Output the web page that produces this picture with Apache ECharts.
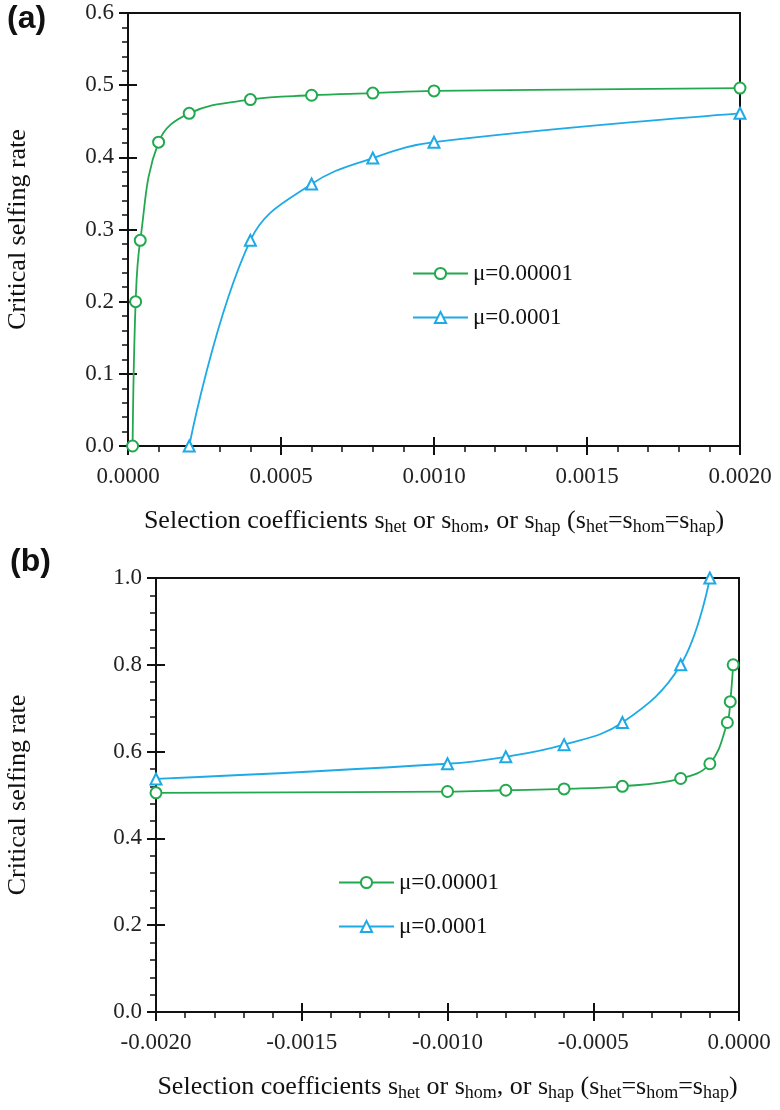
<!DOCTYPE html>
<html><head><meta charset="utf-8">
<script src="https://cdn.jsdelivr.net/npm/echarts@6/dist/echarts.min.js"></script>
<style>html,body{margin:0;padding:0;background:#fff}#c{width:780px;height:1110px}</style>
</head><body><div id="c"></div>
<script>
// Panel (a)
const xA_green = [0.000015, 0.000025, 0.00004, 0.0001, 0.0002, 0.0004, 0.0006, 0.0008, 0.0010, 0.0020];
const yA_green = [0.0, 0.2, 0.285, 0.421, 0.461, 0.480, 0.486, 0.489, 0.492, 0.496];
const xA_blue = [0.0002, 0.0004, 0.0006, 0.0008, 0.0010, 0.0020];
const yA_blue = [0.0, 0.285, 0.363, 0.399, 0.421, 0.461];
// Panel (b)
const xB_green = [-0.0020, -0.0010, -0.0008, -0.0006, -0.0004, -0.0002, -0.0001, -0.00004, -0.00003, -0.00002];
const yB_green = [0.505, 0.508, 0.511, 0.514, 0.520, 0.538, 0.572, 0.667, 0.715, 0.800];
const xB_blue = [-0.0020, -0.0010, -0.0008, -0.0006, -0.0004, -0.0002, -0.0001];
const yB_blue = [0.537, 0.572, 0.588, 0.616, 0.667, 0.800, 1.000];
const seriesNames = ['μ=0.00001', 'μ=0.0001'];
const panelLabels = ['(a)', '(b)'];
const yTitle = 'Critical selfing rate';

const GREEN = '#22a94f', BLUE = '#1eaae6';
const SERIF = '"Liberation Serif", "Times New Roman", serif';
const zip = (xs, ys) => xs.map((x, i) => [x, ys[i]]);

const xTitleRich = '{n|Selection coefficients s}{b|het}{n| or s}{b|hom}{n|, or s}{b|hap}{n| (s}{b|het}{n|=s}{b|hom}{n|=s}{b|hap}{n|)}';
const titleStyle = {
  rich: {
    n: {fontFamily: SERIF, fontSize: 26, color: '#111', lineHeight: 30},
    b: {fontFamily: SERIF, fontSize: 18, color: '#111', lineHeight: 16, verticalAlign: 'bottom'}
  }
};

const grids = [
  {left: 128, right: 40, top: 13, height: 433},
  {left: 156, right: 41, top: 578, height: 434}
];

function xAx(gi, min, max, main) {
  return {
    type: 'value', gridIndex: gi, min: min, max: max, interval: 0.0005,
    position: 'bottom',
    axisLine: {show: main, onZero: false, lineStyle: {color: '#111', width: 2}},
    axisTick: {show: true, inside: !main, length: 9, lineStyle: {color: '#111', width: 2}},
    minorTick: {show: main, splitNumber: 5, length: 6, lineStyle: {color: '#111', width: 1.5}},
    splitLine: {show: false},
    axisLabel: {show: main, margin: 19, fontFamily: SERIF, fontSize: 23, color: '#222',
      formatter: v => v.toFixed(4)},
    name: main ? xTitleRich : '', nameLocation: 'middle', nameGap: 60, nameTextStyle: titleStyle
  };
}
function yAx(gi, min, max, interval, main) {
  return {
    type: 'value', gridIndex: gi, min: min, max: max, interval: interval,
    position: 'left',
    axisLine: {show: main, onZero: false, lineStyle: {color: '#111', width: 2}},
    axisTick: {show: true, inside: !main, length: 9, lineStyle: {color: '#111', width: 2}},
    minorTick: {show: main, splitNumber: 5, length: 6, lineStyle: {color: '#111', width: 1.5}},
    splitLine: {show: false},
    axisLabel: {show: main, margin: 14, fontFamily: SERIF, fontSize: 23, color: '#222',
      formatter: v => v.toFixed(1)},
    name: main ? yTitle : '', nameLocation: 'middle', nameGap: main ? (gi === 0 ? 97 : 125) : 0,
    nameTextStyle: {fontFamily: SERIF, fontSize: 26, color: '#111'}
  };
}

function lineSeries(name, data, xi, yi, color, symbol) {
  return {
    type: 'line', name: name, xAxisIndex: xi, yAxisIndex: yi, data: data,
    smooth: 0.4,
    symbol: symbol, symbolSize: 11, showSymbol: true,
    lineStyle: {color: color, width: 1.8},
    itemStyle: {color: color, borderColor: color, borderWidth: 1.8},
    animation: false
  };
}

const chart = echarts.init(document.getElementById('c'), null, {renderer: 'canvas'});
const gridBase = {show: true, borderColor: '#111', borderWidth: 2, backgroundColor: 'transparent', outerBoundsMode: 'none', containLabel: false};
chart.setOption({
  animation: false,
  backgroundColor: '#fff',
  grid: [
    Object.assign({}, gridBase, grids[0]),
    Object.assign({}, gridBase, grids[1]),
    Object.assign({}, gridBase, {show: false}, grids[0]),
    Object.assign({}, gridBase, {show: false}, grids[1])
  ],
  xAxis: [xAx(0, 0, 0.002, true), xAx(1, -0.002, 0, true), xAx(2, 0, 0.002, false), xAx(3, -0.002, 0, false)],
  yAxis: [yAx(0, 0, 0.6, 0.1, true), yAx(1, 0, 1.0, 0.2, true), yAx(2, 0, 0.6, 0.1, false), yAx(3, 0, 1.0, 0.2, false)],
  legend: [
    {orient: 'vertical', left: 412, top: 262, padding: 0, itemWidth: 55, itemHeight: 14, itemGap: 21,
      textStyle: {fontFamily: SERIF, fontSize: 23, color: '#111'}, data: seriesNames, selectedMode: false},
    {orient: 'vertical', left: 338, top: 871, padding: 0, itemWidth: 55, itemHeight: 14, itemGap: 21,
      textStyle: {fontFamily: SERIF, fontSize: 23, color: '#111'}, data: seriesNames, selectedMode: false}
  ],
  graphic: [
    {type: 'text', left: 7, top: 3, style: {text: panelLabels[0], font: 'bold 32px "Liberation Sans", Arial, sans-serif', fill: '#111'}},
    {type: 'text', left: 10, top: 546, style: {text: panelLabels[1], font: 'bold 32px "Liberation Sans", Arial, sans-serif', fill: '#111'}}
  ],
  series: [
    lineSeries(seriesNames[0], zip(xA_green, yA_green), 0, 0, GREEN, 'emptyCircle'),
    lineSeries(seriesNames[1], zip(xA_blue, yA_blue), 0, 0, BLUE, 'emptyTriangle'),
    lineSeries(seriesNames[0], zip(xB_green, yB_green), 1, 1, GREEN, 'emptyCircle'),
    lineSeries(seriesNames[1], zip(xB_blue, yB_blue), 1, 1, BLUE, 'emptyTriangle')
  ]
});
</script></body></html>
